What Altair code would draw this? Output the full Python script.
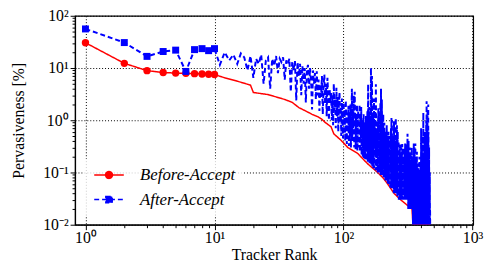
import altair as alt
import pandas as pd

SERIES = ["Before-Accept", "After-Accept"]
COLORS = ["#ff0000", "#0000ff"]

# Before-Accept: rank / pervasiveness [%] (breakpoints of the line)
red_rank = [1, 2, 3, 4, 5, 6, 7, 8, 9, 10, 12, 15, 18, 19, 20, 26, 35, 40, 45, 51,
            57, 64, 68, 72, 80, 84, 96, 108, 129, 154, 184, 205, 220, 246, 277, 339,
            345, 470]
red_value = [30.5, 12.3, 8.9, 8.2, 8.0, 7.9, 7.8, 7.7, 7.6, 7.5, 6.5, 5.6, 4.9, 4.7, 3.4,
             3.1, 2.5, 2.2, 1.75, 1.5, 1.3, 1.15, 1.04, 0.91, 0.75, 0.55, 0.41, 0.30, 0.23,
             0.146, 0.10, 0.076, 0.06, 0.04, 0.03, 0.02, 0.01, 0.01]

# After-Accept: one value per rank (1..470)
blue_value = [
    56, 30.7, 16.7, 20.7, 22, 8.6, 22.5, 23.5, 21.5, 23.5,
    11.5, 20, 14, 18, 12, 19, 16, 9, 17, 6.5,
    15, 12, 18, 5, 14, 16, 4, 15, 11, 17,
    8, 15, 13, 16, 6, 14, 12, 15, 3.5, 13,
    9, 14, 2.4, 13, 7, 12, 3, 11, 5, 10,
    2.2, 9, 11.5, 4, 10, 6, 1.6, 9, 5, 8,
    2.5, 8.7, 3, 6, 1.5, 5, 2.8, 7, 1.3, 4.5,
    7.5, 2, 5, 1.2, 6.5, 3, 1.0, 4, 2.2, 3.5,
    1.0, 3, 0.8, 5, 1.5, 2.5, 0.7, 4.2, 1.2, 2.8,
    0.6, 2.0, 3.4, 0.9, 1.8, 0.5, 2.6, 1.1, 0.45, 2.2,
    0.8, 1.6, 0.4, 2.4, 1.0, 0.35, 1.4, 0.6, 1.9, 0.32,
    1.2, 0.5, 2.0, 0.3, 1.1, 4.0, 0.4, 1.6, 0.7, 3.0,
    0.3, 3.5, 0.9, 0.28, 1.3, 0.5, 2.0, 0.26, 0.9, 1.5,
    0.3, 0.8, 2.0, 0.25, 1.1, 0.45, 1.8, 0.22, 0.7, 1.0,
    0.2, 0.6, 1.3, 0.19, 0.5, 0.9, 0.18, 0.4, 1.2, 0.17,
    0.8, 0.3, 1.5, 0.16, 4.9, 0.2, 0.7, 1.8, 0.15, 0.6,
    1.2, 0.15, 10, 0.14, 2.0, 7.0, 0.13, 0.6, 1.4, 0.12,
    0.5, 2.6, 0.12, 0.9, 0.3, 1.5, 0.11, 4.9, 0.2, 0.7,
    0.11, 1.0, 0.4, 0.1, 0.8, 1.7, 0.1, 0.5, 0.25, 1.2,
    0.1, 0.6, 2.2, 0.09, 4.0, 0.3, 0.09, 2.5, 0.5, 0.09,
    0.7, 0.2, 1.3, 0.08, 0.45, 0.15, 0.9, 0.08, 0.35, 0.6,
    0.07, 0.3, 0.5, 0.07, 0.25, 0.8, 0.07, 0.2, 0.45, 0.06,
    0.35, 0.12, 0.6, 0.06, 0.3, 0.5, 0.06, 0.2, 0.4, 0.05,
    0.25, 0.1, 0.7, 0.05, 1.1, 0.3, 1.0, 0.05, 0.2, 0.45,
    0.05, 0.3, 0.15, 0.5, 0.04, 0.96, 0.04, 0.25, 0.4, 0.04,
    0.2, 0.04, 0.35, 1.1, 0.04, 0.15, 0.5, 0.04, 0.8, 0.12,
    0.035, 0.3, 0.6, 0.035, 0.2, 0.1, 0.4, 0.03, 0.25, 0.15,
    0.03, 0.2, 0.3, 0.03, 0.12, 0.36, 0.03, 0.18, 0.08, 0.3,
    0.03, 0.15, 0.25, 0.03, 0.35, 0.06, 0.2, 0.03, 0.12, 0.3,
    0.03, 0.1, 0.2, 0.03, 0.15, 0.05, 0.25, 0.03, 0.1, 0.36,
    0.03, 0.18, 0.08, 0.3, 0.03, 0.12, 0.22, 0.03, 0.06, 0.36,
    0.03, 0.15, 0.55, 0.03, 0.1, 0.25, 0.02, 0.08, 0.4, 0.02,
    0.12, 0.05, 0.2, 0.02, 0.3, 0.08, 0.02, 0.15, 0.05, 0.25,
    0.02, 0.1, 0.04, 0.18, 0.02, 0.08, 0.3, 0.02, 0.12, 0.05,
    0.02, 0.15, 0.03, 0.08, 0.01, 0.2, 0.04, 0.01, 0.1, 0.36,
    0.01, 0.06, 0.15, 0.01, 0.3, 0.03, 0.01, 0.1, 0.05, 0.36,
    0.01, 0.08, 0.02, 0.2, 0.01, 0.05, 0.12, 0.01, 0.04, 0.25,
    0.01, 0.06, 0.03, 0.15, 0.01, 0.08, 0.02, 0.1, 0.01, 0.05,
    0.12, 0.01, 0.04, 0.02, 0.08, 0.01, 0.2, 0.01, 0.05, 0.03,
    0.01, 0.1, 0.02, 0.06, 0.01, 0.15, 0.01, 0.04, 0.7, 0.01,
    0.08, 0.02, 0.3, 0.01, 0.05, 0.12, 0.01, 0.03, 0.5, 0.01,
    0.06, 0.02, 0.2, 0.01, 1.4, 0.01, 0.04, 0.1, 0.01, 0.3,
    0.01, 0.05, 0.02, 0.15, 0.01, 0.08, 0.6, 0.01, 0.03, 0.2,
    0.01, 0.1, 0.02, 0.4, 0.01, 0.06, 1.0, 0.01, 0.12, 2.3,
    0.01, 0.3, 0.02, 0.8, 0.01, 0.1, 1.5, 0.01, 0.05, 0.5,
    0.01, 0.2, 2.0, 0.01, 0.6, 0.03, 0.01, 0.15, 0.01, 0.3,
    0.01, 0.08, 0.01, 0.05, 0.01, 0.1, 0.01, 0.02, 0.01, 0.01,
]
blue_rank = list(range(1, len(blue_value) + 1))
n_markers = 10

x_ticks = [1, 2, 3, 4, 5, 6, 7, 8, 9, 10, 20, 30, 40, 50, 60, 70, 80, 90,
           100, 200, 300, 400, 500, 600, 700, 800, 900, 1000]
x_major = [1, 10, 100, 1000]
x_major_labels = ["10⁰", "10¹", "10²", "10³"]
y_ticks = [0.01, 0.02, 0.03, 0.04, 0.05, 0.06, 0.07, 0.08, 0.09,
           0.1, 0.2, 0.3, 0.4, 0.5, 0.6, 0.7, 0.8, 0.9,
           1, 2, 3, 4, 5, 6, 7, 8, 9, 10, 20, 30, 40, 50, 60, 70, 80, 90, 100]
y_major = [0.01, 0.1, 1, 10, 100]
y_major_labels = ["10⁻²", "10⁻¹", "10⁰", "10¹", "10²"]

red_df = pd.DataFrame({"rank": red_rank, "value": red_value, "series": SERIES[0]})
blue_df = pd.DataFrame({"rank": blue_rank, "value": blue_value, "series": SERIES[1]})
red_pts = red_df.iloc[:n_markers]
blue_pts = blue_df.iloc[:n_markers]
all_pts = pd.concat([red_pts, blue_pts])

FONT = "Liberation Serif"


def label_expr(values, labels):
    expr = "''"
    for v, l in reversed(list(zip(values, labels))):
        expr = f"datum.value == {v} ? '{l}' : ({expr})"
    return expr


def major_test(values):
    return "indexof([" + ",".join(str(v) for v in values) + "], datum.value) >= 0"


x_axis = alt.Axis(values=x_ticks, labelExpr=label_expr(x_major, x_major_labels),
                  tickSize={"condition": {"test": major_test(x_major), "value": 5}, "value": 3},
                  gridOpacity={"condition": {"test": major_test(x_major), "value": 1}, "value": 0},
                  labelOverlap=False, labelFlush=False, labelPadding=0,
                  titlePadding=1)
y_axis = alt.Axis(values=y_ticks, labelExpr=label_expr(y_major, y_major_labels),
                  tickSize={"condition": {"test": major_test(y_major), "value": 5}, "value": 3},
                  gridOpacity={"condition": {"test": major_test(y_major), "value": 1}, "value": 0},
                  labelOverlap=False, labelFlush=False, labelPadding=2,
                  titlePadding=16)

xs = alt.Scale(type="log", domain=[0.83, 1010], nice=False)
ys = alt.Scale(type="log", domain=[0.01, 100], nice=False)

X = alt.X("rank:Q", scale=xs, axis=x_axis, title="Tracker Rank")
Y = alt.Y("value:Q", scale=ys, axis=y_axis, title="Pervasiveness [%]")

stroke_scale = alt.Scale(domain=SERIES, range=COLORS)
dash_scale = alt.Scale(domain=SERIES, range=[[1, 0], [5, 3]])

red_line = alt.Chart(red_df).mark_line(strokeWidth=1.5, clip=True).encode(
    x=X, y=Y,
    stroke=alt.Stroke("series:N", scale=stroke_scale, legend=None),
    strokeDash=alt.StrokeDash("series:N", scale=dash_scale, legend=None),
)
blue_line = alt.Chart(blue_df).mark_line(strokeWidth=2, clip=True).encode(
    x=X, y=Y,
    stroke=alt.Stroke("series:N", scale=stroke_scale, legend=None),
    strokeDash=alt.StrokeDash("series:N", scale=dash_scale, legend=None),
)
red_points = alt.Chart(red_pts).mark_point(shape="circle", filled=True, size=56,
                                            opacity=1, color=COLORS[0]).encode(x=X, y=Y)
blue_points = alt.Chart(blue_pts).mark_point(shape="square", filled=True, size=50,
                                              opacity=1, color=COLORS[1]).encode(x=X, y=Y)

# legend glyphs: a line with a marker in the middle
circle_glyph = "M-1,0L5,0M2.7,0A0.7,0.7,0,1,1,1.3,0A0.7,0.7,0,1,1,2.7,0Z"
square_glyph = "M-1,0L5,0M1.35,-0.65L2.65,-0.65L2.65,0.65L1.35,0.65Z"


def leg():
    return alt.Legend(title=None, orient="none", legendX=8, legendY=145, padding=8,
                      fillColor="rgba(255,255,255,0.8)",
                      labelFont=FONT, labelFontSize=17, labelFontStyle="italic",
                      labelColor="black", symbolSize=100, symbolStrokeWidth=1.5,
                      symbolOpacity=1, labelOffset=33, rowPadding=7)


# legend carrier (draws nothing; comes first so its legend settings win the merge)
legend_layer = alt.Chart(all_pts).mark_point(size=100, filled=True).encode(
    x=X, y=Y,
    fill=alt.Fill("series:N", scale=stroke_scale, legend=leg()),
    stroke=alt.Stroke("series:N", scale=stroke_scale, legend=leg()),
    strokeDash=alt.StrokeDash("series:N", scale=dash_scale, legend=leg()),
    shape=alt.Shape("series:N", scale=alt.Scale(domain=SERIES, range=[circle_glyph, square_glyph]),
                    legend=leg()),
).transform_filter("datum.rank < 0")

chart = alt.layer(legend_layer, red_line, red_points, blue_line, blue_points).properties(
    width=404, height=212,
    autosize=alt.AutoSizeParams(type="none"),
    padding={"left": 68, "top": 6, "right": 12, "bottom": 41},
).configure_view(
    stroke="black", strokeWidth=1.2
).configure_axis(
    labelFont=FONT, labelFontSize=16, labelColor="black",
    titleFont=FONT, titleFontSize=16, titleFontWeight="normal", titleColor="black",
    domainColor="black", domainWidth=1.2, tickColor="black", tickWidth=1,
    gridColor="black", gridDash=[1, 2], gridWidth=1,
)

chart.save("out.html", embed_options={"renderer": "svg", "actions": False})
